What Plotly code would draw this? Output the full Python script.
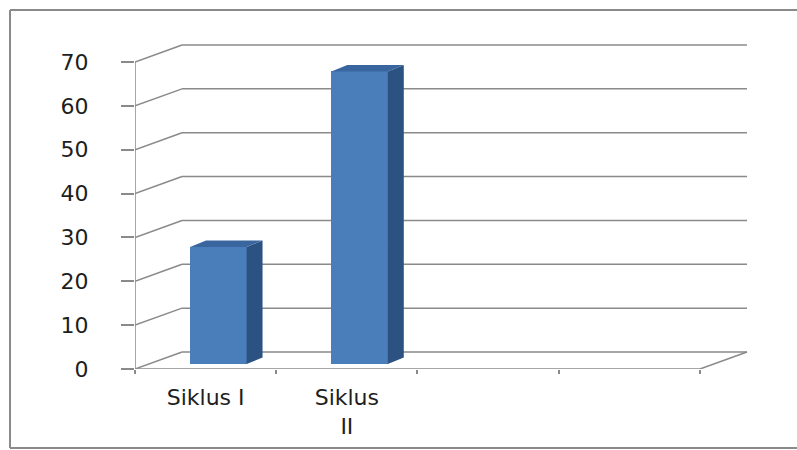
import plotly.graph_objects as go

# ---- data ----
categories = ["Siklus I", "Siklus II"]
values = [26.7, 66.7]
tick_text = ["Siklus I", "Siklus<br>II"]
y_ticks = [0, 10, 20, 30, 40, 50, 60, 70]
n_slots = 4

# ---- 3D look parameters (axis units) ----
DX, DY = 0.333, 3.88      # depth of the walls
BAR_W = 0.40
BAR_OFF = 0.39            # left offset of bar front face within slot
BASE = 1.14               # bar base lifted by depth position
SDX, SDY = 0.113, 1.48    # bar depth

FRONT = "#4a7ebb"
SIDE = "#2c5282"
TOP = "#3a66a0"
GRID = "#8a8a8a"

fig = go.Figure()

xs = [i + BAR_OFF + BAR_W / 2 for i in range(len(values))]
fig.add_trace(go.Bar(
    x=xs, y=values, base=BASE, width=BAR_W,
    marker=dict(color=FRONT, line=dict(width=0)),
    hoverinfo="skip", showlegend=False,
))

side_x, side_y, top_x, top_y = [], [], [], []
for xc, v in zip(xs, values):
    x0 = xc - BAR_W / 2
    x1 = xc + BAR_W / 2
    t = BASE + v
    side_x += [x1, x1, x1 + SDX, x1 + SDX, x1, None]
    side_y += [BASE, t, t + SDY, BASE + SDY, BASE, None]
    top_x += [x0, x1, x1 + SDX, x0 + SDX, x0, None]
    top_y += [t, t, t + SDY, t + SDY, t, None]

fig.add_trace(go.Scatter(x=side_x, y=side_y, fill="toself", fillcolor=SIDE,
                         mode="lines", line=dict(width=0, color=SIDE),
                         hoverinfo="skip", showlegend=False))
fig.add_trace(go.Scatter(x=top_x, y=top_y, fill="toself", fillcolor=TOP,
                         mode="lines", line=dict(width=0, color=TOP),
                         hoverinfo="skip", showlegend=False))

shapes = []
for v in y_ticks:
    shapes.append(dict(type="line", xref="x", yref="y", layer="below",
                       x0=DX, y0=v + DY, x1=n_slots + DX, y1=v + DY,
                       line=dict(color=GRID, width=1.5)))
    shapes.append(dict(type="line", xref="x", yref="y", layer="below",
                       x0=0, y0=v, x1=DX, y1=v + DY,
                       line=dict(color=GRID, width=1.5)))
# floor front edge and right edge
shapes.append(dict(type="line", xref="x", yref="y", layer="below",
                   x0=0, y0=0, x1=n_slots, y1=0, line=dict(color=GRID, width=1.5)))
shapes.append(dict(type="line", xref="x", yref="y", layer="below",
                   x0=n_slots, y0=0, x1=n_slots + DX, y1=DY, line=dict(color=GRID, width=1.5)))
# front value axis line
shapes.append(dict(type="line", xref="x", yref="y", layer="below",
                   x0=0, y0=0, x1=0, y1=y_ticks[-1], line=dict(color=GRID, width=1.5)))
# outer chart border: left, top, bottom edges only
BORDER = dict(color="#8a8a8a", width=2)
for (a, b, c, d) in [(-0.2, -0.233, -0.2, 1.059),
                     (-0.2, 1.059, 1.3, 1.059),
                     (-0.2, -0.233, 1.3, -0.233)]:
    shapes.append(dict(type="line", xref="paper", yref="paper",
                       x0=a, y0=b, x1=c, y1=d, line=BORDER))

fig.update_layout(
    width=797, height=450,
    margin=dict(l=135, r=37, t=30, b=81),
    paper_bgcolor="white", plot_bgcolor="white",
    shapes=shapes,
    bargap=0,
    font=dict(family="DejaVu Sans", size=22, color="#1e1e1e"),
    xaxis=dict(
        range=[0, 4.425], showgrid=False, zeroline=False, showline=False,
        tickmode="array", tickvals=[0.5, 1.5], ticktext=tick_text,
        ticks="", ticklabelstandoff=13,
        minor=dict(tickmode="array", tickvals=list(range(n_slots + 1)),
                   ticks="outside", ticklen=4, tickcolor=GRID, tickwidth=1.5,
                   showgrid=False),
        fixedrange=True,
    ),
    yaxis=dict(
        range=[0, 77.3], showgrid=False, zeroline=False, showline=False,
        tickmode="array", tickvals=y_ticks,
        ticks="outside", ticklen=13, tickcolor=GRID, tickwidth=1.5,
        ticklabelstandoff=28,
        fixedrange=True,
    ),
)

fig.write_html("out.html")
